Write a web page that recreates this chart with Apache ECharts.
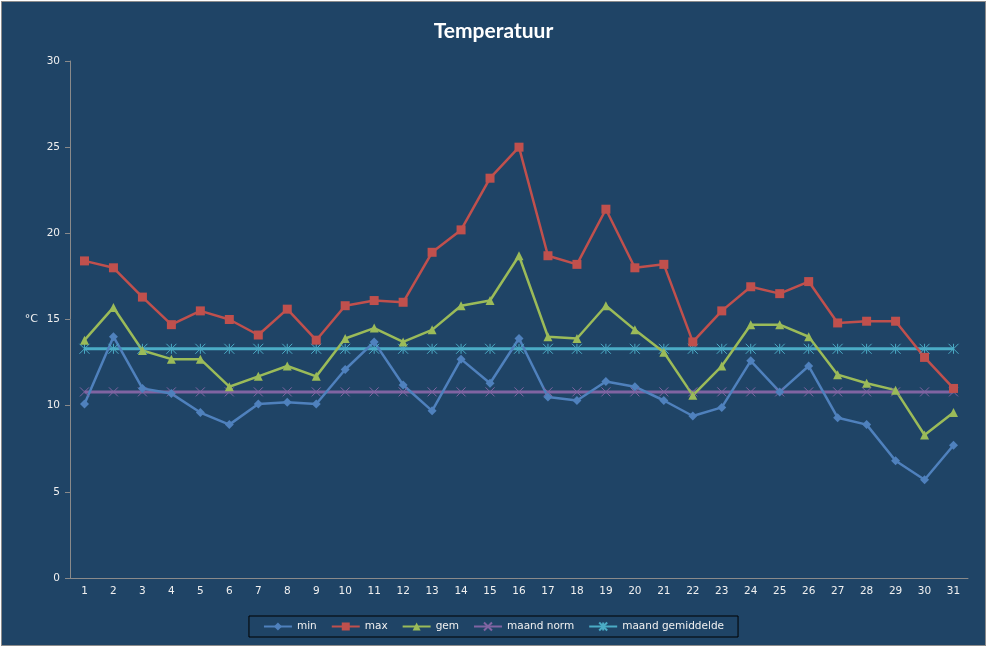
<!DOCTYPE html>
<html>
<head>
<meta charset="utf-8">
<script src="https://cdn.jsdelivr.net/npm/echarts@6/dist/echarts.min.js"></script>
<style>
  body { margin: 0; background: #ffffff; }
  #chart {
    position: absolute; left: 1px; top: 1px;
    width: 983px; height: 643px;
    border: 1px solid #8c8c8c;
    background: #1f4466;
  }
</style>
</head>
<body>
<div id="chart"></div>
<script>
// dagen van de maand
const days = Array.from({ length: 31 }, (_, i) => String(i + 1))

const minTemp = [10.1, 14.0, 11.0, 10.7, 9.6, 8.9, 10.1, 10.2, 10.1, 12.1, 13.7,
  11.2, 9.7, 12.7, 11.3, 13.9, 10.5, 10.3, 11.4, 11.1, 10.3,
  9.4, 9.9, 12.6, 10.8, 12.3, 9.3, 8.9, 6.8, 5.7, 7.7]
const maxTemp = [18.4, 18.0, 16.3, 14.7, 15.5, 15.0, 14.1, 15.6, 13.8, 15.8, 16.1,
  16.0, 18.9, 20.2, 23.2, 25.0, 18.7, 18.2, 21.4, 18.0, 18.2,
  13.7, 15.5, 16.9, 16.5, 17.2, 14.8, 14.9, 14.9, 12.8, 11.0]
const gemTemp = [13.8, 15.7, 13.2, 12.7, 12.7, 11.1, 11.7, 12.3, 11.7, 13.9, 14.5,
  13.7, 14.4, 15.8, 16.1, 18.7, 14.0, 13.9, 15.8, 14.4, 13.1,
  10.6, 12.3, 14.7, 14.7, 14.0, 11.8, 11.3, 10.9, 8.3, 9.6]
const maandNorm = 10.8
const maandGem = 13.3

const yTicks = [0, 5, 10, 15, 20, 25, 30]

const crossPath = 'path://M0,0L10,10M10,0L0,10'
const starPath = 'path://M0,0L10,10M10,0L0,10M5,0L5,10'

const mChart = echarts.init(document.getElementById('chart'))

function lineSerie(name, data, color, symbol, size, width) {
  const stroke = symbol.indexOf('path://') === 0
  return {
    name,
    type: 'line',
    data,
    symbol,
    symbolSize: size,
    showAllSymbol: true,
    animation: false,
    lineStyle: { color, width },
    itemStyle: stroke
      ? { color: 'rgba(0,0,0,0)', borderColor: color, borderWidth: 1 }
      : { color, borderWidth: 0 },
    emphasis: { disabled: true }
  }
}

const option = {
  backgroundColor: '#1f4466',
  title: {
    text: 'Temperatuur',
    left: 'center',
    top: 14,
    textStyle: {
      color: '#ffffff',
      fontFamily: 'Lato',
      fontWeight: 'bold',
      fontSize: 21
    }
  },
  grid: {
    left: 68,
    right: 17,
    top: 59,
    bottom: 67
  },
  legend: {
    bottom: 8,
    left: 'center',
    borderColor: '#000000',
    borderWidth: 1,
    padding: [5, 14],
    itemGap: 14,
    itemWidth: 28,
    itemHeight: 10,
    textStyle: {
      color: '#f0f0f0',
      fontFamily: 'DejaVu Sans',
      fontSize: 10.5
    },
    data: ['min', 'max', 'gem', 'maand norm', 'maand gemiddelde']
  },
  xAxis: {
    type: 'category',
    data: days,
    axisLine: { lineStyle: { color: '#8a8a8a' } },
    axisTick: { lineStyle: { color: '#8a8a8a' }, length: 5 },
    axisLabel: {
      color: '#f0f0f0',
      fontFamily: 'DejaVu Sans',
      fontSize: 10.5,
      margin: 8
    }
  },
  yAxis: {
    type: 'value',
    min: yTicks[0],
    max: yTicks[yTicks.length - 1],
    interval: 5,
    name: '°C',
    nameLocation: 'middle',
    nameRotate: 0,
    nameGap: 32,
    nameTextStyle: {
      color: '#f0f0f0',
      fontFamily: 'DejaVu Sans',
      fontSize: 11
    },
    axisLine: { show: true, lineStyle: { color: '#8a8a8a' } },
    axisTick: { show: true, lineStyle: { color: '#8a8a8a' }, length: 5 },
    splitLine: { show: false },
    axisLabel: {
      color: '#f0f0f0',
      fontFamily: 'DejaVu Sans',
      fontSize: 10.5,
      margin: 10
    }
  },
  series: [
    lineSerie('maand norm', days.map(() => maandNorm), '#8064a2', crossPath, 9, 3),
    lineSerie('maand gemiddelde', days.map(() => maandGem), '#4bacc6', starPath, 10, 3),
    lineSerie('min', minTemp, '#4f81bd', 'diamond', 9, 2.5),
    lineSerie('max', maxTemp, '#c0504d', 'rect', 9, 2.5),
    lineSerie('gem', gemTemp, '#9bbb59', 'triangle', 9, 2.5)
  ]
}
mChart.setOption(option)
</script>
</body>
</html>
